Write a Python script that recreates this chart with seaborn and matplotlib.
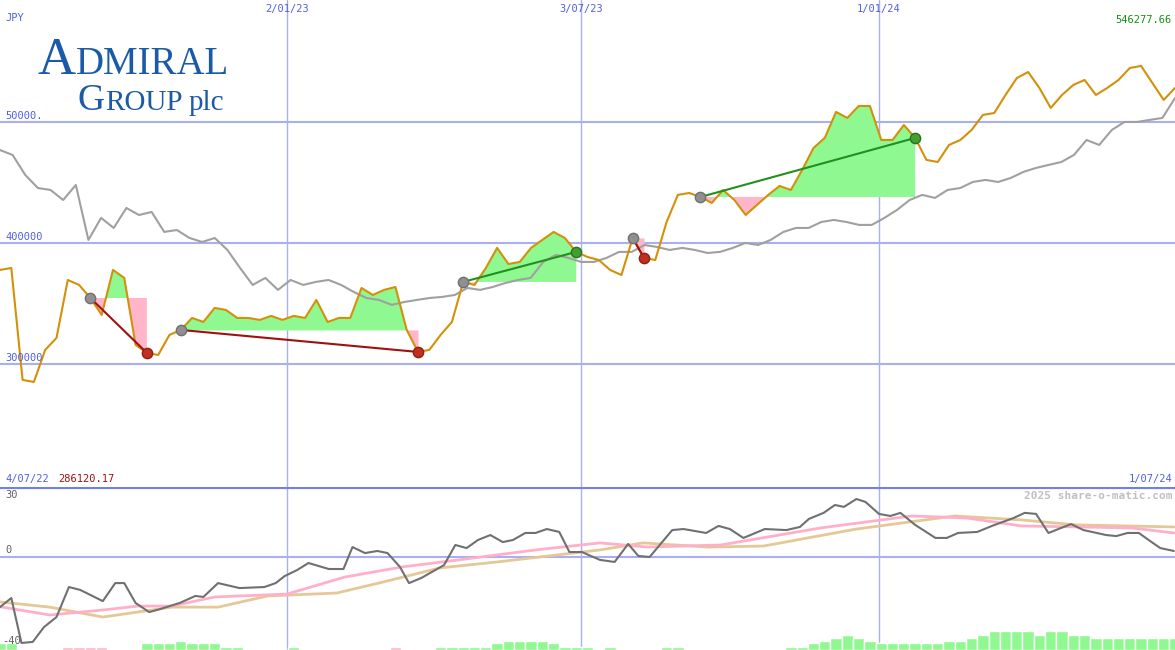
import matplotlib
matplotlib.use('Agg')
import matplotlib.pyplot as plt
import seaborn as sns
import numpy as np
import pandas as pd

sns.set_style('white')
plt.rcParams['font.family'] = ['DejaVu Sans Mono', 'DejaVu Sans']

# weekly closes, thousands of JPY (4/07/22 .. 1/07/24)
price = [377.7, 379.3, 286.8, 285.1, 311.6, 321.5, 369.4, 365.3, 354.5, 340.5,
         377.7, 371.1, 315.7, 309.1, 307.4, 324.0, 328.1, 338.0, 334.7, 346.3,
         344.6, 338.0, 338.0, 336.4, 339.7, 336.4, 339.7, 338.0, 352.9, 334.7,
         338.0, 338.0, 362.8, 357.0, 361.2, 363.6, 328.1, 309.9, 311.6, 324.0,
         334.7, 367.8, 365.3, 379.3, 395.9, 382.6, 384.3, 395.9, 402.5, 409.1,
         404.1, 392.6, 388.4, 385.9, 377.7, 373.5, 404.1, 387.6, 385.9, 417.3,
         439.7, 441.3, 438.0, 433.0, 443.8, 435.5, 423.1, 431.4, 439.7, 447.1,
         443.8, 460.3, 478.5, 486.8, 508.3, 503.3, 513.2, 513.2, 485.1, 485.1,
         497.5, 486.8, 468.6, 466.9, 481.0, 485.1, 493.4, 505.8, 507.4, 522.3,
         536.3, 541.3, 528.1, 511.6, 522.3, 530.6, 534.7, 522.3, 528.1, 534.7,
         544.6, 546.3, 532.2, 518.2, 528.1]

# slow moving average (grey)
avg = [476.8, 472.7, 456.2, 445.4, 443.8, 435.5, 447.9, 402.5, 420.7, 412.4,
       428.9, 423.1, 425.6, 409.1, 410.7, 404.1, 400.8, 404.1, 394.2, 379.3,
       365.3, 371.1, 361.2, 369.4, 365.3, 367.8, 369.4, 365.3, 359.5, 354.5,
       352.9, 348.8, 351.2, 352.9, 354.5, 355.4, 357.0, 362.8, 361.2, 363.6,
       366.9, 369.4, 371.1, 384.3, 390.1, 387.6, 384.3, 384.3, 387.6, 392.6,
       392.6, 398.3, 396.7, 394.2, 395.9, 394.2, 391.7, 392.6, 395.9, 400.0,
       398.3, 402.5, 409.1, 412.4, 412.4, 417.3, 419.0, 417.3, 414.9, 414.9,
       420.7, 427.3, 435.5, 439.7, 437.2, 443.8, 445.4, 450.4, 452.1, 450.4,
       453.7, 458.7, 462.0, 464.5, 466.9, 472.7, 485.1, 481.0, 493.4, 500.0,
       500.0, 501.7, 503.3, 519.8]

# trend segments (start week, end week)
segments = [(8, 13), (16, 37), (41, 51), (56, 57), (62, 81)]

grid_weeks = [25.4, 51.4, 77.8]
grid_labels = ['2/01/23', '3/07/23', '1/01/24']

# oscillator panel
osc_w = [0, 1.0, 1.9, 2.9, 3.9, 5.0, 6.1, 7.1, 9.1, 10.2, 11.0, 12.0, 13.2, 14.2, 15.9,
         17.3, 18.0, 19.3, 21.2, 23.4, 24.4, 25.2, 26.3, 27.3, 29.1, 30.4, 31.2, 32.3,
         33.4, 34.3, 35.4, 36.2, 37.3, 39.3, 40.3, 41.3, 42.3, 43.4, 44.5, 45.4, 46.5,
         47.4, 48.4, 49.5, 50.4, 51.5, 53.1, 54.4, 55.6, 56.5, 57.5, 59.5, 60.5, 62.5,
         63.6, 64.6, 65.8, 67.7, 69.6, 70.8, 71.6, 72.9, 73.9, 74.7, 75.8, 76.6, 77.8,
         78.8, 79.7, 81.0, 82.8, 83.8, 84.8, 86.5, 87.8, 89.7, 90.7, 91.7, 92.8, 94.8,
         95.9, 97.9, 98.8, 99.8, 100.8, 101.8, 102.7, 103.9]
osc_v = [-24.2, -19.8, -41.5, -41, -33.8, -29, -14.5, -15.9, -21.3, -12.6, -12.6, -22.2,
         -26.6, -25.1, -22.2, -18.8, -19.3, -12.6, -15, -14.5, -12.6, -9.2, -6.3, -2.9,
         -5.8, -5.8, 4.8, 1.9, 2.9, 1.9, -4.8, -12.6, -10.1, -3.9, 5.8, 4.3, 8.2, 10.6,
         7.2, 8.2, 11.6, 11.6, 13.5, 12.1, 2.4, 2.4, -1.4, -2.4, 6.3, 0.5, 0, 13, 13.5,
         11.6, 15, 13.5, 9.2, 13.5, 13, 14.5, 18.4, 21.3, 25.1, 24.2, 28, 26.6, 20.8,
         19.8, 21.3, 15.5, 9.2, 9.2, 11.6, 12.1, 15, 18.8, 21.3, 20.8, 11.6, 15.9, 13,
         10.6, 10.1, 11.6, 11.6, 7.7, 4.3, 2.9]
ma1_w = [0, 4.4, 9.1, 12.2, 15.2, 19, 25.4, 30.5, 35.6, 40.6, 47.4, 53.1, 57.3, 63.8,
         72.6, 80.7, 85.6, 90.4, 95.3, 100.2, 103.9]
ma1_v = [-24, -28, -25.6, -23.7, -23.7, -19.3, -17.9, -9.7, -4.8, -1.4, 3.4, 6.8, 4.8,
         5.8, 14, 19.8, 18.8, 15, 14.5, 14, 11.6]
ma2_w = [0, 4.4, 9.1, 15.2, 19.3, 23.7, 29.8, 33.9, 38.9, 44, 53.1, 56.9, 62.7, 67.6,
         75.8, 84.5, 90.4, 95.3, 103.9]
ma2_v = [-21.7, -24.2, -29, -24.2, -24.2, -18.8, -17.4, -12.1, -5.3, -2.4, 3.4, 6.8,
         4.8, 5.3, 13.5, 19.8, 17.9, 15.5, 14.5]
hist = ([3.2, 3.2, 0, 0, 0, 0, -1.6, -1.6, -1.6, -1.6, 0, 0, 0, 3.2, 3.2, 3.2, 4.3,
         3.2, 3.2, 3.2, 1.6, 1.6, 0, 0, 0, 0, 1.6] + [0] * 8 + [-1.6, 0, 0, 0]
        + [1.6] * 5 + [3.2, 4.3, 4.3, 4.3, 4.3, 3.2, 1.6, 1.6, 1.6, 0, 1.6, 0, 0, 0, 0,
                       1.6, 1.6] + [0] * 9
        + [1.6, 1.6, 3.2, 4.3, 6, 7.2, 6, 4.3] + [3.2] * 6
        + [4.3, 4.3, 6, 7.2, 9.2, 9.2, 9.2, 9.2, 7.2, 9.2, 9.2, 7.2, 7.2] + [6] * 8)

weeks = np.arange(len(price))
df = pd.DataFrame({'week': weeks, 'price': price})
avg_w = np.linspace(0, len(price) - 1, len(avg))

fig = plt.figure(figsize=(11.75, 6.5), dpi=100)
ax = fig.add_axes([0, 0.2508, 1, 0.7492])
ax2 = fig.add_axes([0, 0, 1, 0.2508])
gridc = '#a8b0f0'
blue = '#5060e0'

# ---- main panel
ax.set_xlim(0, len(price) - 1)
ax.set_ylim(198.3, 600.8)
for v in [300, 400, 500]:
    ax.axhline(v, color=gridc, lw=1.5, zorder=1)
for w in grid_weeks:
    ax.axvline(w, color=gridc, lw=1, zorder=1)

for s, e in segments:
    xs = weeks[s:e + 1]
    ys = np.array(price[s:e + 1])
    base = price[s]
    ax.fill_between(xs, ys, base, where=ys >= base, color='#90f890', interpolate=True, lw=0, zorder=2)
    ax.fill_between(xs, ys, base, where=ys < base, color='#ffb6c8', interpolate=True, lw=0, zorder=2)

sns.lineplot(x=avg_w, y=avg, ax=ax, color='#a0a0a0', lw=1.5, zorder=3)
sns.lineplot(data=df, x='week', y='price', ax=ax, color='#d4900a', lw=1.5, zorder=4)

for s, e in segments:
    up = price[e] > price[s]
    c = '#209020' if up else '#a01010'
    ax.plot([s, e], [price[s], price[e]], color=c, lw=1.5, zorder=5)
    ax.scatter([s], [price[s]], s=55, color='#909090', edgecolor='#707070', zorder=6)
    ax.scatter([e], [price[e]], s=55, color='#40a030' if up else '#c03020',
               edgecolor='#307020' if up else '#902010', zorder=6)

ax.set_xticks([]); ax.set_yticks([])
ax.set_xlabel(''); ax.set_ylabel('')
for sp in ax.spines.values():
    sp.set_visible(False)

# ---- oscillator panel
ax2.set_xlim(0, len(price) - 1)
ax2.set_ylim(-44.9, 33.8)
ax2.axhline(0, color=gridc, lw=1.5, zorder=1)
for w in grid_weeks:
    ax2.axvline(w, color=gridc, lw=1, zorder=1)
hist = np.array(hist)
ax2.bar(np.arange(len(hist)), np.abs(hist), width=1, bottom=-44.9,
        color=np.where(hist >= 0, '#90f890', '#ffb6c8'), zorder=2)
sns.lineplot(x=ma2_w, y=ma2_v, ax=ax2, color='#e4c898', lw=2, zorder=3)
sns.lineplot(x=ma1_w, y=ma1_v, ax=ax2, color='#ffb0c8', lw=2, zorder=3)
sns.lineplot(x=osc_w, y=osc_v, ax=ax2, color='#707070', lw=1.5, zorder=4)
ax2.axhline(33.8, color='#7080e8', lw=3, zorder=5)
ax2.set_xticks([]); ax2.set_yticks([])
ax2.set_xlabel(''); ax2.set_ylabel('')
for sp in ax2.spines.values():
    sp.set_visible(False)

# ---- texts (pixel positions)
def ft(x, y, s, **kw):
    return fig.text(x / 1175, 1 - y / 650, s, **kw)

small = dict(fontsize=7.5, va='center')
ft(5, 18, 'JPY', color=blue, **small)
ft(5, 116, '50000.', color=blue, **small)
ft(5, 237, '400000', color=blue, **small)
ft(5, 358, '300000', color=blue, **small)
for w, lab in zip(grid_weeks, grid_labels):
    ft(w * 1175 / (len(price) - 1), 9, lab, color=blue, ha='center', **small)
ft(1172, 20, '546277.66', color='#109010', ha='right', **small)
ft(5, 479, '4/07/22', color=blue, **small)
ft(58, 479, '286120.17', color='#a01010', **small)
ft(1172, 479, '1/07/24', color=blue, ha='right', **small)
ft(5, 495, '30', color='#606060', **small)
ft(5, 550, '0', color='#606060', **small)
ft(2, 641, '-40', color='#606060', **small)
ft(1172, 496, '2025 share-o-matic.com', color='#c0c0c0', ha='right', fontsize=8,
   fontweight='bold', va='center')

# logo: pieces placed one after another
logo = dict(color='#1a5aa8', family='Liberation Serif', va='baseline')
renderer = fig.canvas.get_renderer()

def chain(x, y, pieces):
    for s, size, gap in pieces:
        t = ft(x, y, s, fontsize=size, **logo)
        bb = t.get_window_extent(renderer)
        x += bb.width + gap

chain(38, 74, [('A', 38, 0), ('DMIRAL', 28, 0)])
chain(78, 110, [('G', 27, 0), ('ROUP', 21, 6), ('plc', 21, 0)])

fig.savefig('out.png', dpi=100)
